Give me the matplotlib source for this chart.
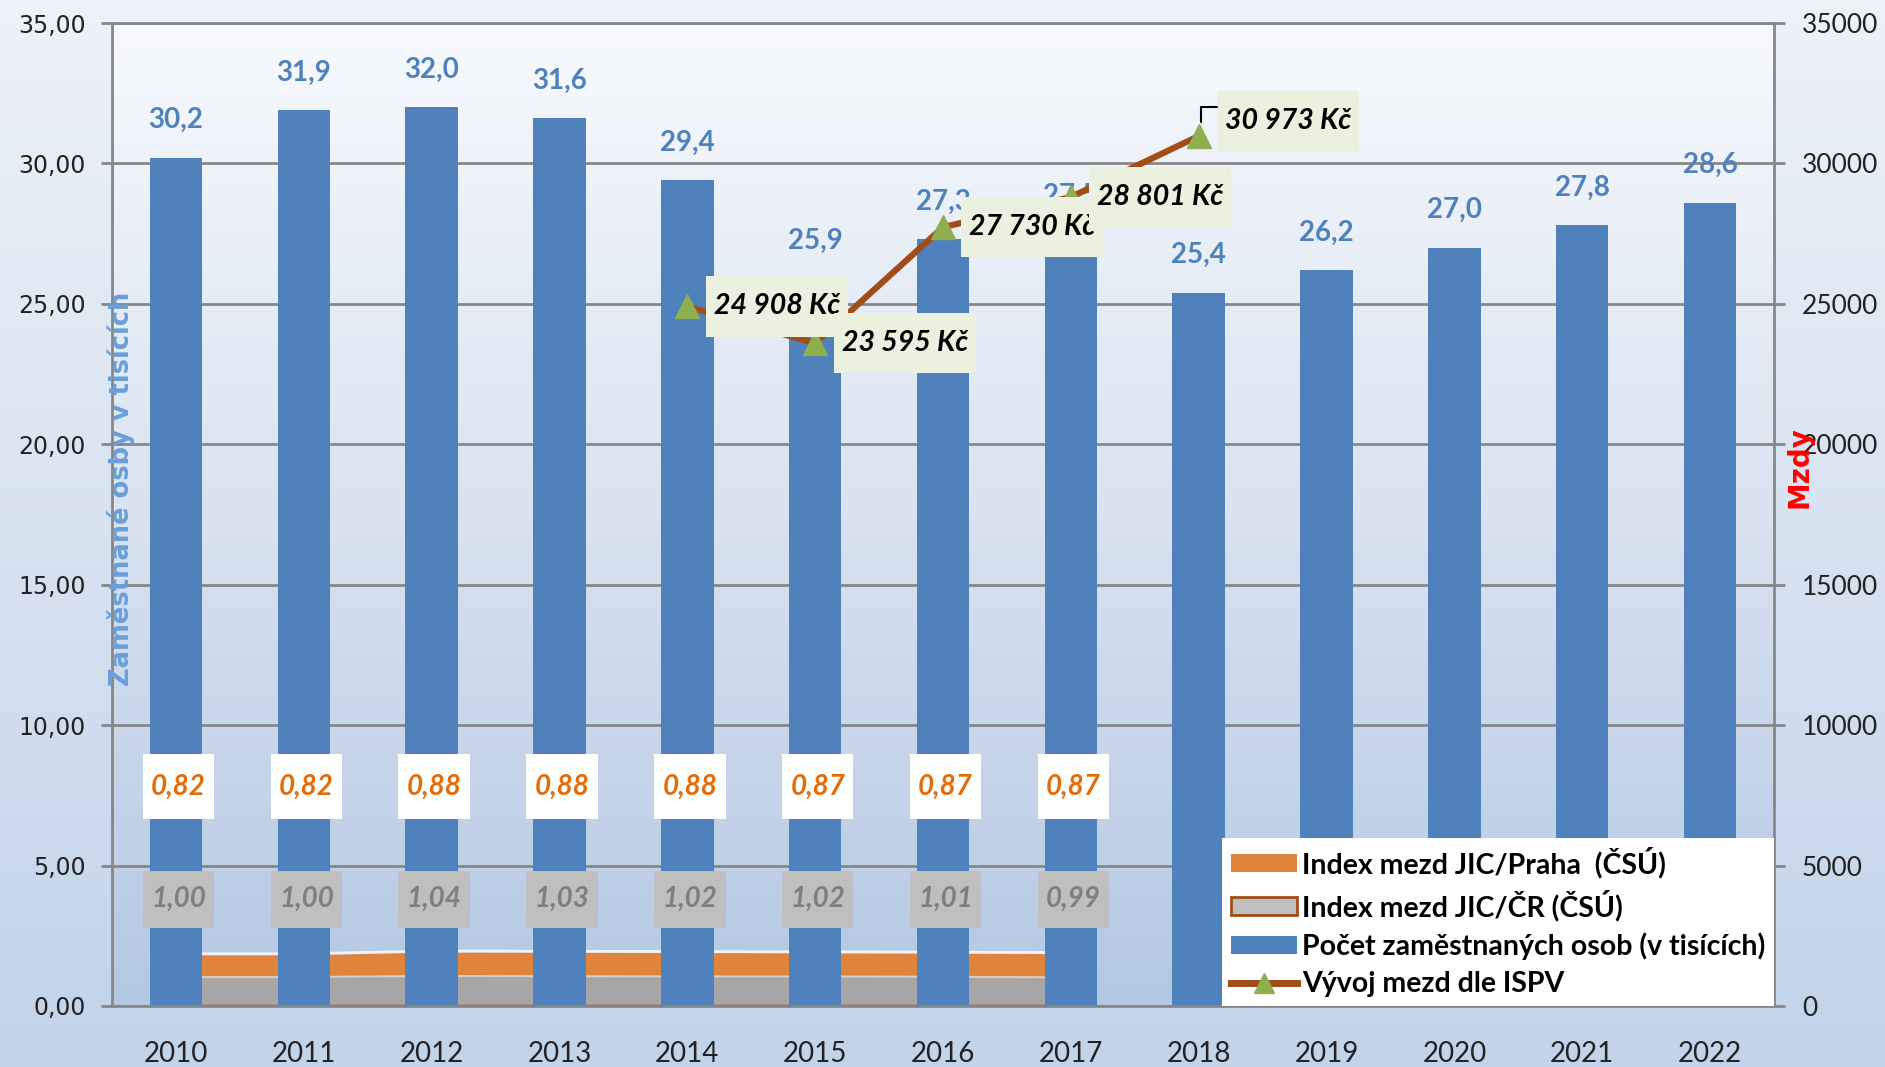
import numpy as np
import matplotlib
matplotlib.use("Agg")
import matplotlib.pyplot as plt
from matplotlib.patches import Patch
from matplotlib.lines import Line2D
from matplotlib.path import Path
from matplotlib.colors import LinearSegmentedColormap

# data
years = ['2010', '2011', '2012', '2013', '2014', '2015', '2016',
         '2017', '2018', '2019', '2020', '2021', '2022']
employed = [30.2, 31.9, 32.0, 31.6, 29.4, 25.9, 27.3, 27.5, 25.4, 26.2, 27.0, 27.8, 28.6]
idx_praha = [0.82, 0.82, 0.88, 0.88, 0.88, 0.87, 0.87, 0.87]   # 2010-2017
idx_cr = [1.00, 1.00, 1.04, 1.03, 1.02, 1.02, 1.01, 0.99]      # 2010-2017
ispv_years = ['2014', '2015', '2016', '2017', '2018']
ispv_wage = [24908, 23595, 27730, 28801, 30973]

narrow = ['Lato', 'DejaVu Sans']
blue = '#4f81bd'
orange = '#e0843c'
gray = '#a6a6a6'
brown = '#a04d17'
green = '#8faf4e'
gridc = '#878787'


def boxer(padx, pady):
    # label box with separate horizontal / vertical padding (like Excel labels)
    def box(x0, y0, width, height, mutation_size):
        px, py = padx * mutation_size, pady * mutation_size
        return Path([(x0 - px, y0 - py), (x0 + width + px, y0 - py),
                     (x0 + width + px, y0 + height + py), (x0 - px, y0 + height + py),
                     (x0 - px, y0 - py)], closed=True)
    return box


W, H = 1885, 1067
fig = plt.figure(figsize=(W / 100, H / 100), dpi=100)

# background gradient of the whole figure
bg = fig.add_axes([0, 0, 1, 1], zorder=-5)
cm_fig = LinearSegmentedColormap.from_list('f', ['#c2d4ea', '#eef2f9'])
bg.imshow(np.linspace(0, 1, 256).reshape(-1, 1), cmap=cm_fig, aspect='auto',
          origin='lower', extent=[0, 1, 0, 1])
bg.axis('off')

ax = fig.add_axes([112 / W, 1 - 1006 / H, (1774 - 112) / W, (1006 - 23) / H])
ax.set_xlim(-0.5, 12.5)
ax.set_ylim(0, 35)
cm_ax = LinearSegmentedColormap.from_list('a', ['#b4c8e3', '#d9e3f1', '#f7f9fd'])
ax.imshow(np.linspace(0, 1, 256).reshape(-1, 1), cmap=cm_ax, aspect='auto',
          origin='lower', extent=[-0.5, 12.5, 0, 35], zorder=0)
ax.set_facecolor('none')

x = np.arange(len(years))
xa = x[:len(idx_cr)]

# stacked index areas (behind the bars)
ax.fill_between(xa, 0, idx_cr, color=gray, lw=0, zorder=1)
top = np.array(idx_cr) + np.array(idx_praha)
ax.fill_between(xa, idx_cr, top, color=orange, lw=0, zorder=1)
ax.plot(xa, top + 0.04, color='white', lw=2, alpha=0.8, zorder=1)
ax.plot(xa, np.array(idx_cr) + 0.03, color='#d0d0d0', lw=1.5, zorder=1)
ax.plot(xa, np.zeros(len(xa)), color=brown, lw=2.5, zorder=1.5)

ax.bar(x, employed, width=0.41, color=blue, zorder=2)

ax.yaxis.grid(True, color=gridc, lw=2, zorder=0.5)
ax.set_axisbelow(True)
for s in ['left', 'bottom', 'top']:
    ax.spines[s].set_color(gridc)
    ax.spines[s].set_linewidth(2)
ax.spines['right'].set_visible(False)

ax.set_yticks(np.arange(0, 36, 5))
ax.set_yticklabels([f'{v:.2f}'.replace('.', ',') for v in np.arange(0, 36, 5)])
ax.tick_params(axis='y', length=8, width=2, color=gridc, pad=11, labelsize=17,
               labelcolor='#222222')
ax.set_xticks(x)
ax.set_xticklabels(years, family=narrow, fontsize=20, color='#222222')
ax.tick_params(axis='x', length=0, pad=25)

# bar value labels
for xi, v in zip(x, employed):
    ax.annotate(f'{v:.1f}'.replace('.', ','), (xi, v), xytext=(0, 27),
                textcoords='offset points', ha='center', va='center',
                family=narrow, fontsize=20, fontweight='bold', color=blue, zorder=3)

# index labels
for xi, v in zip(xa, idx_praha):
    ax.text(xi + 0.02, 7.8, f'{v:.2f}'.replace('.', ','), ha='center', va='center',
            family=narrow, fontsize=20, fontweight='bold', style='italic',
            color='#e36c0a', zorder=4,
            bbox=dict(boxstyle=boxer(0.3, 0.7), fc='white', ec='none'))
for xi, v in zip(xa, idx_cr):
    ax.text(xi + 0.02, 3.8, f'{v:.2f}'.replace('.', ','), ha='center', va='center',
            family=narrow, fontsize=20, fontweight='bold', style='italic',
            color='#7f7f7f', zorder=4,
            bbox=dict(boxstyle=boxer(0.3, 0.55), fc='#bfbfbf', ec='none'))

# secondary axis: wages
ax2 = ax.twinx()
ax2.set_ylim(0, 35000)
ax2.set_yticks(np.arange(0, 35001, 5000))
ax2.set_yticklabels([str(v) for v in np.arange(0, 35001, 5000)])
ax2.tick_params(axis='y', length=8, width=2, color=gridc, pad=12, labelsize=19,
                labelcolor='#222222')
for t in ax2.get_yticklabels():
    t.set_family(narrow)
for s in ['left', 'bottom', 'top']:
    ax2.spines[s].set_visible(False)
ax2.spines['right'].set_color(gridc)
ax2.spines['right'].set_linewidth(2)

xi_w = [years.index(y) for y in ispv_years]
ax2.plot(xi_w, ispv_wage, color=brown, lw=4.5, marker='^', ms=17,
         mfc=green, mec=green, zorder=5)
for k, (xi, v) in enumerate(zip(xi_w, ispv_wage)):
    lab = f'{v:,}'.replace(',', ' ') + ' Kč'
    dy = 11 if k == len(xi_w) - 1 else 0
    ax2.annotate(lab, (xi, v), xytext=(19, dy), textcoords='offset points',
                 ha='left', va='center', family=narrow, fontsize=20.5,
                 fontweight='bold', style='italic', color='black', zorder=6,
                 bbox=dict(boxstyle=boxer(0.28, 0.6), fc='#ebf1de', ec='none'))
    if dy:
        ax2.annotate('', (xi + 0.02, v + 500), xytext=(11, dy), textcoords='offset points',
                     arrowprops=dict(arrowstyle='-', color='black', lw=1.5,
                                     shrinkA=0, shrinkB=0,
                                     connectionstyle='angle,angleA=0,angleB=90,rad=0'),
                     zorder=6)

handles = [Patch(fc=orange, ec='none'),
           Patch(fc='#bfbfbf', ec=brown, lw=2),
           Patch(fc=blue, ec='none'),
           Line2D([], [], color=brown, lw=5, marker='^', ms=14, mfc=green, mec=green)]
labels = ['Index mezd JIC/Praha  (ČSÚ)', 'Index mezd JIC/ČR (ČSÚ)',
          'Počet zaměstnaných osob (v tisících)', 'Vývoj mezd dle ISPV']
leg = ax2.legend(handles, labels, loc='lower right', bbox_to_anchor=(1, 0),
                 borderaxespad=0, fancybox=False, framealpha=1, edgecolor='none',
                 facecolor='white', prop=dict(family=narrow, size=20.5, weight='bold'),
                 handlelength=2.3, handleheight=0.6, handletextpad=0.2,
                 labelspacing=0.4, borderpad=0.3)
leg.set_zorder(10)

fig.text(121 / W, 1 - 489 / H, 'Zaměstnané osby v tisících', rotation=90,
         ha='center', va='center', fontsize=18.5, fontweight='bold', color='#6a9fdc')
fig.text(1799 / W, 1 - 467 / H, 'Mzdy', rotation=90, ha='center', va='center',
         fontsize=20, fontweight='bold', color='#ff0000')

fig.savefig('out.png', dpi=100)
